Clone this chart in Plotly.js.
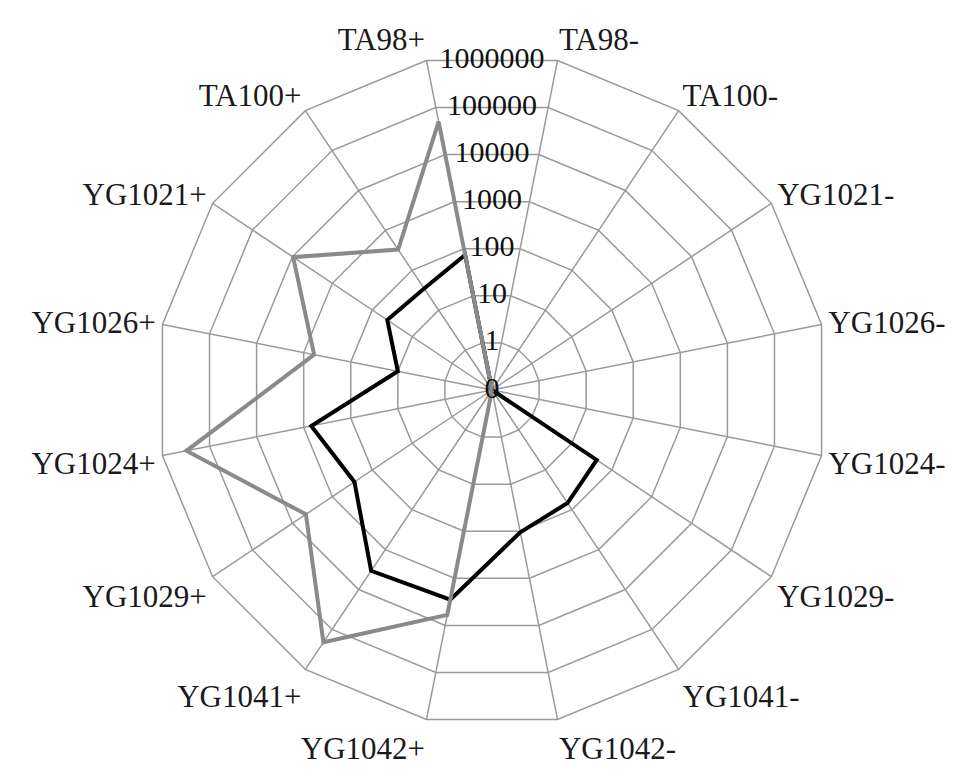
<!DOCTYPE html>
<html><head><meta charset="utf-8">
<script src="https://cdn.plot.ly/plotly-3.0.1.min.js"></script>
<style>html,body{margin:0;padding:0;background:#fff}</style>
</head><body><div id="chart" style="width:977px;height:778px"></div>
<script>
const categories = ['TA98-','TA100-','YG1021-','YG1026-','YG1024-','YG1029-','YG1041-','YG1042-','YG1042+','YG1041+','YG1029+','YG1024+','YG1026+','YG1021+','TA100+','TA98+'];
const grayValues = [0,0,0,0,0,0,0,0,6000,210000,4600,310000,600,9600,330,50000];
const blackValues = [0,0,0,0,0,42,68,105,2850,3400,280,690,10,42,35,74];
const tickValues = [0,1,10,100,1000,10000,100000,1000000];
const tickLabels = ['0','1','10','100','1000','10000','100000','1000000'];

// value -> ring position on the "0, 1, 10, 100 ..." scale
const toRing = v => v <= 0 ? 0 : Math.log10(v) + 1;
const close = a => a.concat([a[0]]);
const ringPos = tickValues.map(toRing);
const nRings = ringPos[ringPos.length - 1];

const serif = 'Liberation Serif, Times New Roman, serif';
const gridCol = '#9a9a9a';

const traces = [
  {type:'scatterpolar', subplot:'polar', mode:'lines',
   theta: close(categories), r: close(blackValues.map(toRing)),
   line:{color:'#000000', width:4}, hoverinfo:'skip'},
  {type:'scatterpolar', subplot:'polar', mode:'lines',
   theta: close(categories), r: close(grayValues.map(toRing)),
   line:{color:'#8a8a8a', width:4}, hoverinfo:'skip'},
  {type:'scatterpolar', subplot:'polar2', mode:'text',
   theta: ringPos.map(() => 90), r: ringPos, text: tickLabels,
   textposition:'middle center',
   textfont:{family:serif, size:30, color:'#111'}, hoverinfo:'skip'}
];

const layout = {
  width:977, height:778,
  paper_bgcolor:'#fff',
  showlegend:false,
  margin:{l:156, r:149, t:54, b:52, pad:0},
  polar:{
    domain:{x:[0,1], y:[0,1]},
    gridshape:'linear',
    bgcolor:'#fff',
    angularaxis:{type:'category', rotation:78.75, direction:'clockwise',
      showline:true, linecolor:gridCol, linewidth:1.5,
      showgrid:true, gridcolor:gridCol, gridwidth:1.5,
      ticks:'', tickfont:{family:serif, size:31, color:'#1a1a1a'}},
    radialaxis:{range:[0,nRings], tickvals:ringPos, showticklabels:false,
      ticks:'', showline:false, showgrid:true, gridcolor:gridCol, gridwidth:1.5, angle:90}
  },
  polar2:{
    domain:{x:[0,1], y:[0,1]},
    bgcolor:'rgba(0,0,0,0)',
    angularaxis:{visible:false, rotation:0, direction:'counterclockwise'},
    radialaxis:{visible:false, range:[0, nRings/Math.cos(Math.PI/16)]}
  }
};

Plotly.newPlot('chart', traces, layout, {displayModeBar:false, staticPlot:true});
</script>
</body></html>
